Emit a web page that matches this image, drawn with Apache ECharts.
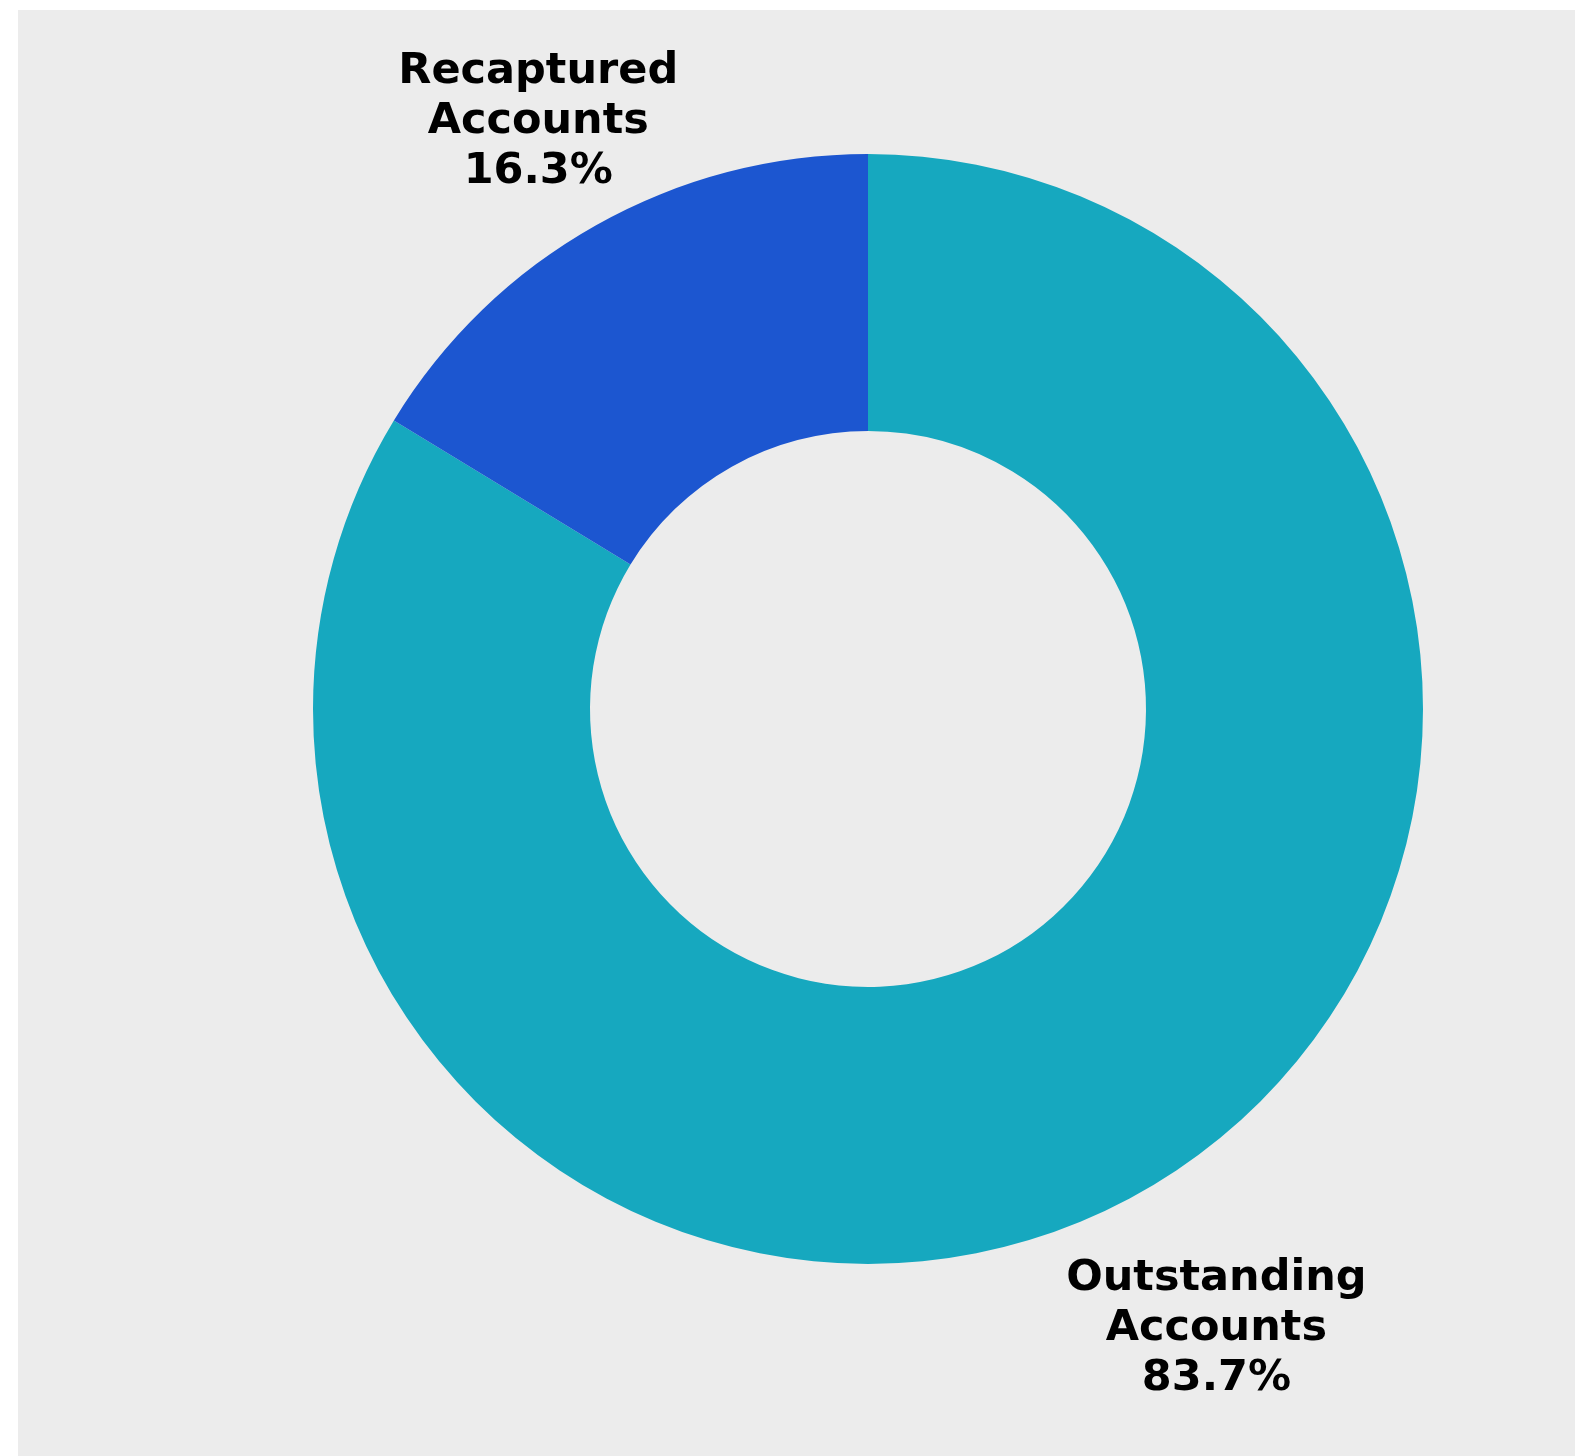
<!DOCTYPE html>
<html><head><meta charset="utf-8">
<script src="https://cdn.jsdelivr.net/npm/echarts@6/dist/echarts.min.js"></script>
<style>
html,body{margin:0;padding:0;background:#fff;width:1575px;height:1456px;overflow:hidden}
#panel{position:absolute;left:18px;top:10px;width:1557px;height:1446px;background:#ececec}
#chart{width:1557px;height:1446px}
</style></head><body>
<div id="panel"><div id="chart"></div></div>
<script>
const categories = ['Outstanding Accounts', 'Recaptured Accounts'];
const values = [83.7, 16.3];
const colors = ['#16a8bf', '#1c56d0'];

const CENTER = [850, 699];
const labelRadius = [708, 670];

const data = categories.map((c, i) => ({ name: c, value: values[i], itemStyle: { color: colors[i] } }));

const labelSeries = categories.map((_, k) => ({
  type: 'pie',
  center: CENTER,
  radius: [labelRadius[k] - 80, labelRadius[k] + 80],
  startAngle: 90,
  clockwise: true,
  silent: true,
  itemStyle: { color: 'rgba(0,0,0,0)' },
  label: {
    position: 'inside',
    color: '#000',
    fontFamily: 'DejaVu Sans',
    fontWeight: 900,
    fontSize: 43,
    lineHeight: 50,
    align: 'center',
    formatter: p => p.name.replace(' ', '\n') + '\n' + p.value.toFixed(1) + '%'
  },
  labelLine: { show: false },
  data: categories.map((c, i) => ({ name: c, value: values[i], label: { show: i === k } }))
}));

const chart = echarts.init(document.getElementById('chart'), null, { renderer: 'canvas' });
chart.setOption({
  backgroundColor: 'transparent',
  animation: false,
  series: [
    {
      type: 'pie',
      center: CENTER,
      radius: [278, 555],
      startAngle: 90,
      clockwise: true,
      silent: true,
      label: { show: false },
      labelLine: { show: false },
      data: data
    }
  ].concat(labelSeries)
});
</script>
</body></html>
